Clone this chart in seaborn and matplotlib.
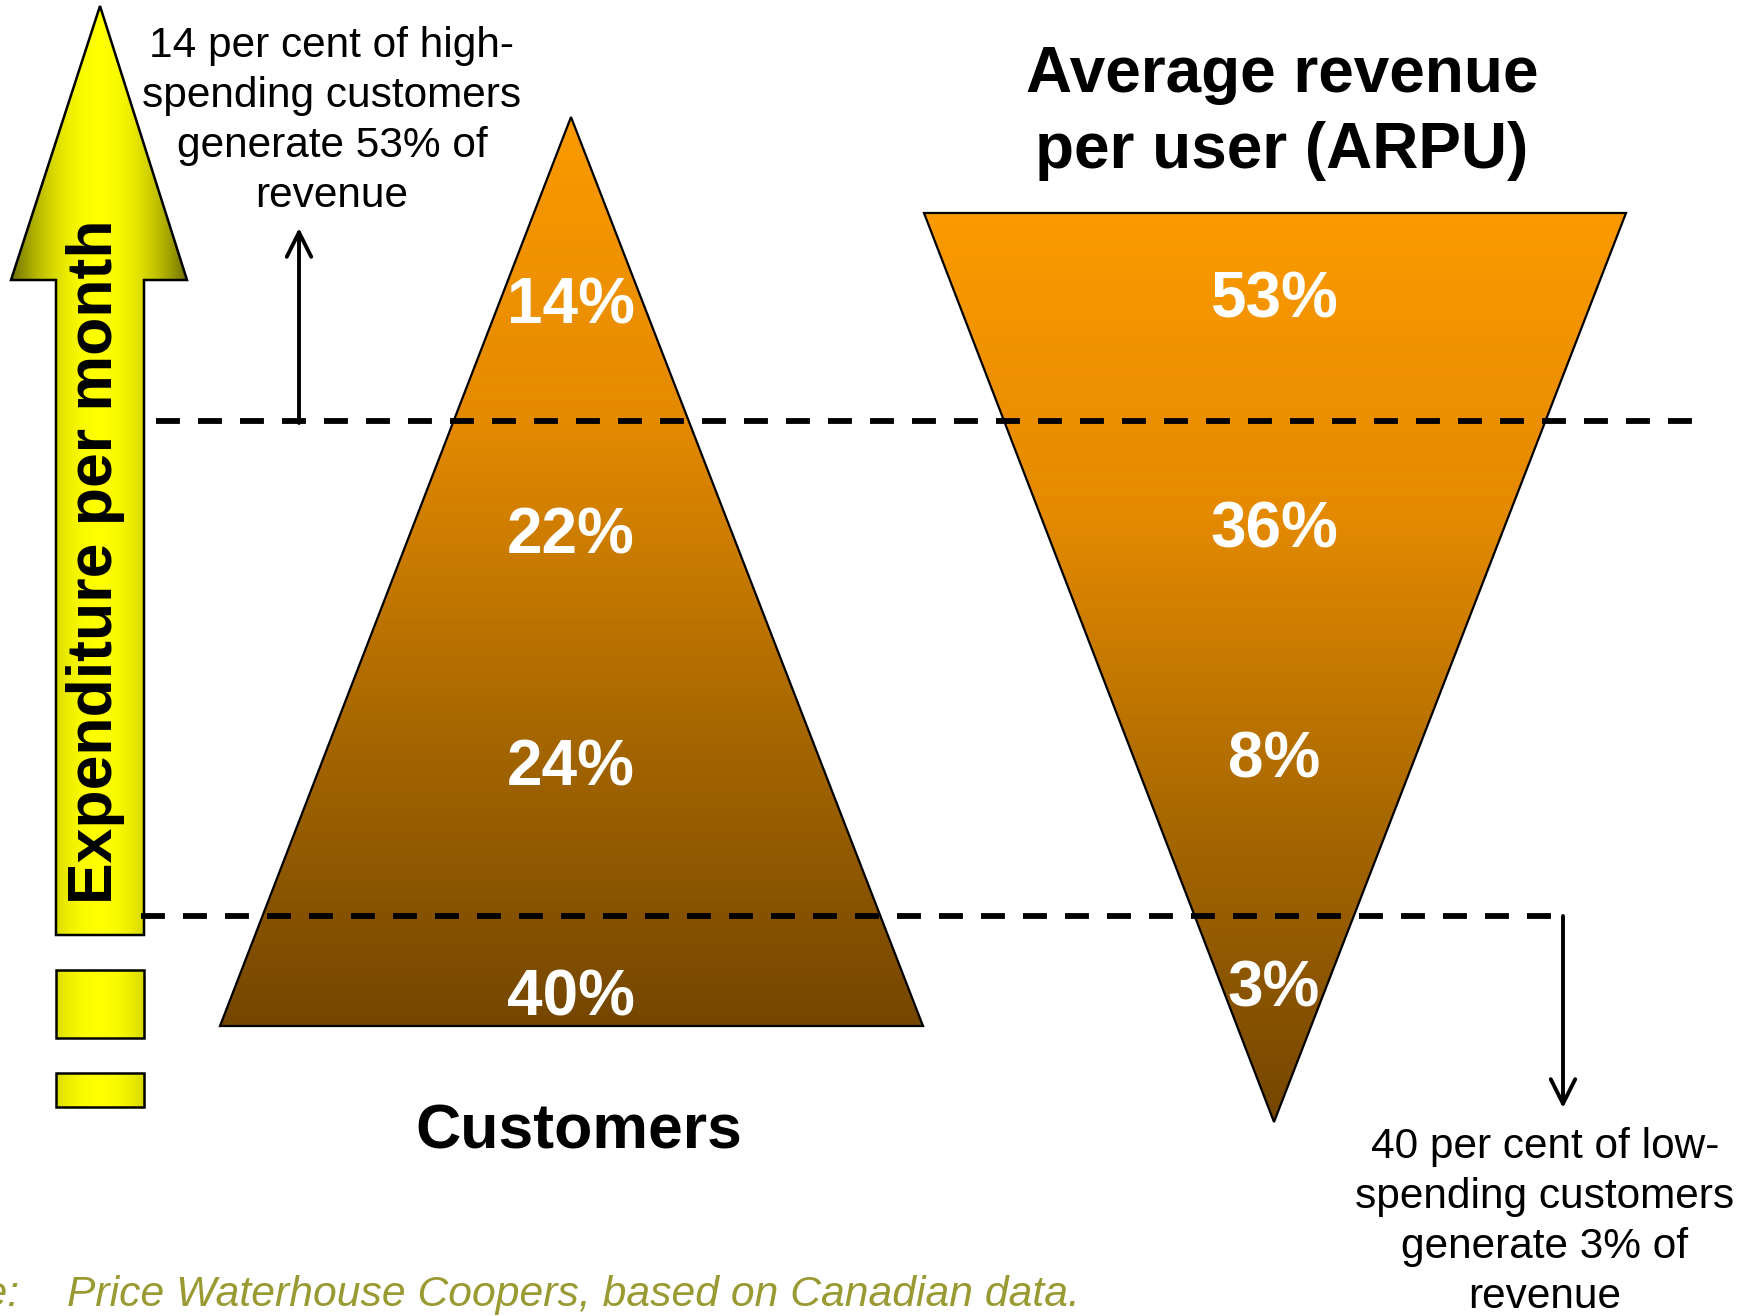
import numpy as np
import matplotlib.pyplot as plt
import seaborn as sns
from matplotlib.patches import Polygon, Rectangle
from matplotlib.colors import LinearSegmentedColormap

# band shares, top to bottom
customers_share = [14, 22, 24, 40]
arpu_share = [53, 36, 8, 3]
customers_title = "Customers"
arpu_title = "Average revenue\nper user (ARPU)"
axis_label = "Expenditure per month"
note_high = "14 per cent of high-\nspending customers\ngenerate 53% of\nrevenue"
note_low = "40 per cent of low-\nspending customers\ngenerate 3% of\nrevenue"
source_text = "Price Waterhouse Coopers, based on Canadian data."

sns.set_theme(style="white")
plt.rcParams['font.family'] = ['Liberation Sans', 'DejaVu Sans']
plt.rcParams['text.color'] = 'black'

W, H = 1745, 1316
fig = plt.figure(figsize=(W / 100, H / 100), dpi=100)
ax = fig.add_axes([0, 0, 1, 1])
ax.set_xlim(0, W)
ax.set_ylim(H, 0)
ax.axis('off')

orange_brown = LinearSegmentedColormap.from_list('ob', ['#fb9a00', '#e48a00', '#a86800', '#744600'])
grad_v = np.linspace(0, 1, 256).reshape(-1, 1)


def gradient_poly(pts, y_top, y_bot):
    poly = Polygon(pts, closed=True, facecolor='none', edgecolor='black', lw=1.6, zorder=3)
    ax.add_patch(poly)
    xs = [p[0] for p in pts]
    im = ax.imshow(grad_v, cmap=orange_brown, aspect='auto', origin='upper',
                   extent=(min(xs), max(xs), y_bot, y_top), zorder=2)
    im.set_clip_path(poly)


# customers pyramid and ARPU funnel
gradient_poly([(571, 117), (923, 1026), (220, 1026)], 117, 1026)
gradient_poly([(924, 213), (1626, 213), (1274, 1122)], 213, 1122)

for i, v in enumerate(customers_share):
    ax.text(571, 300 + i * 231 + 23, f"{v}%", color='white', fontsize=46,
            fontweight='bold', ha='center', va='baseline', zorder=5)
for i, v in enumerate(arpu_share):
    ax.text(1274, 295 + i * 229.5 + 23, f"{v}%", color='white', fontsize=46,
            fontweight='bold', ha='center', va='baseline', zorder=5)

# yellow arrow and boxes with horizontal gradient
t = np.abs(np.linspace(-1, 1, 256))
b = 1 - 0.57 * t ** 2
yellow = np.dstack([b, b, np.zeros_like(b)])
ax_l, ax_r = 11, 187
arrow_pts = [(100, 6), (187, 280), (144, 280), (144, 935), (56, 935), (56, 280), (11, 280)]
shapes = [Polygon(arrow_pts, closed=True)]
shapes.append(Rectangle((56, 970), 88, 68))
shapes.append(Rectangle((56, 1073), 88, 34))
for shp in shapes:
    shp.set_facecolor('none')
    shp.set_edgecolor('black')
    shp.set_linewidth(1.8)
    shp.set_zorder(3)
    ax.add_patch(shp)
    im = ax.imshow(yellow, aspect='auto', extent=(ax_l, ax_r, 1110, 6), zorder=2)
    im.set_clip_path(shp)

ax.text(96, 562, axis_label, rotation=90, fontsize=45, fontweight='bold',
        ha='center', va='center', zorder=5)

# dashed threshold lines
ax.plot([156, 1692], [421, 421], color='black', lw=4.2, dashes=(4.1, 3.1), zorder=4)
ax.plot([141, 1552], [916, 916], color='black', lw=4.2, dashes=(4.1, 3.1), zorder=4)

# annotation arrows
ax.annotate('', xy=(299, 228), xytext=(299, 423),
            arrowprops=dict(arrowstyle='->', lw=2.8, color='black',
                            mutation_scale=44, shrinkA=0, shrinkB=0))
ax.annotate('', xy=(1563, 1108), xytext=(1563, 916),
            arrowprops=dict(arrowstyle='->', lw=2.8, color='black',
                            mutation_scale=44, shrinkA=0, shrinkB=0))

ax.text(332, 121, note_high, fontsize=30.5, ha='center', va='center', linespacing=1.33)
ax.text(1545, 1222, note_low, fontsize=30.5, ha='center', va='center', linespacing=1.33)

ax.text(579, 1132, customers_title, fontsize=45, fontweight='bold', ha='center', va='center')
ax.text(1282, 113, arpu_title, fontsize=46, fontweight='bold', ha='center', va='center',
        linespacing=1.36)

ax.text(67, 1306, source_text, fontsize=30.7, style='italic', color='#9a9a33',
        ha='left', va='baseline')
ax.text(20, 1306, "Source:", fontsize=30.7, style='italic', color='#9a9a33',
        ha='right', va='baseline')

fig.savefig('out.png', dpi=100)
